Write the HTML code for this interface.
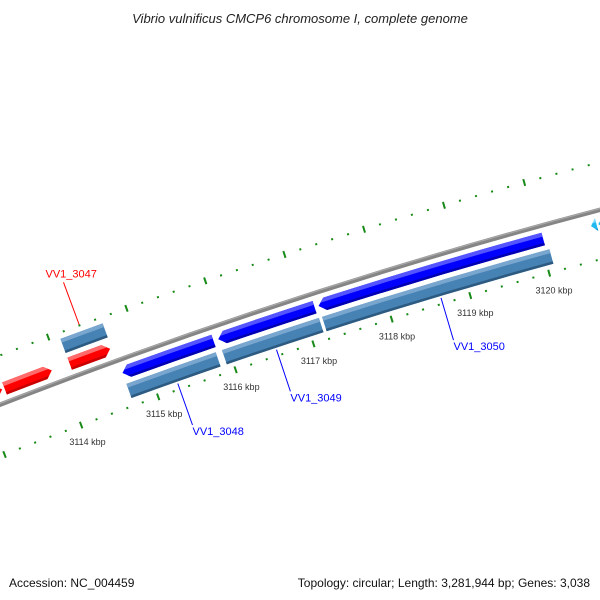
<!DOCTYPE html>
<html><head><meta charset="utf-8"><style>
html,body{margin:0;padding:0;background:#fff;}
svg{display:block;font-family:"Liberation Sans","DejaVu Sans",sans-serif;}
</style></head><body>
<svg id="map" width="600" height="600" viewBox="0 0 600 600" xmlns="http://www.w3.org/2000/svg">
<rect width="600" height="600" fill="#fff"/>
<text x="300" y="23" text-anchor="middle" font-size="13" font-style="italic" fill="#222">Vibrio vulnificus CMCP6 chromosome I, complete genome</text>
<text x="9" y="587" font-size="12" fill="#111">Accession: NC_004459</text>
<text x="590" y="587" text-anchor="end" font-size="12" fill="#111">Topology: circular; Length: 3,281,944 bp; Genes: 3,038</text>
<g id="layer"></g>
</svg>
<script>
// data (kbp)
const featStart = [3112.4, 3113.29, 3114.13, 3114.13, 3114.69, 3114.69, 3115.92, 3115.92, 3117.20, 3117.20, 3120.64, 3120.73];
const featEnd   = [3113.26, 3113.90, 3114.65, 3114.67, 3115.86, 3115.84, 3117.15, 3117.16, 3120.04, 3120.08, 3120.71, 3121.5];
const featStrand= [1, 1, 1, 1, -1, -1, -1, -1, -1, -1, -1, -1];
const featType  = ['cds','cds','cds','gene','cds','gene','cds','gene','cds','gene','cds2','cds2'];
const tickLabels = [3114, 3115, 3116, 3117, 3118, 3119, 3120];
const geneNames = ['VV1_3047','VV1_3048','VV1_3049','VV1_3050'];
const geneLabelPos = [3114.40, 3115.28, 3116.55, 3118.65];
const geneLabelStrand = [1, -1, -1, -1];

const NS='http://www.w3.org/2000/svg';
const layer=document.getElementById('layer');
const cx=2000, cy=5540, R=5511, phi0=-0.35890, dphi=0.015017;
function ang(k){return phi0+(k-3114)*dphi;}
function P(k,r){const a=ang(k);return [cx+r*Math.sin(a), cy-r*Math.cos(a)];}
function f(p){return p[0].toFixed(2)+' '+p[1].toFixed(2);}
function arc(k1,k2,r){const sweep=k2>k1?1:0;return 'A '+r+' '+r+' 0 0 '+sweep+' '+f(P(k2,r));}
function mk(tag,attrs,parent){const e=document.createElementNS(NS,tag);for(const k in attrs)e.setAttribute(k,attrs[k]);(parent||layer).appendChild(e);return e;}

// backbone
const bb=mk('path',{d:'M '+f(P(3112,R))+' '+arc(3112,3122,R),stroke:'#858585','stroke-width':4.5,fill:'none'});


const bb2=mk('path',{d:'M '+f(P(3112,R+1.3))+' '+arc(3112,3122,R+1.3),stroke:'#a8a8a8','stroke-width':1.2,fill:'none'});



// ticks
for(let i=0;i<=45;i++){
  const k=3112.6+i*0.2; const kk=Math.round(k*5)/5;
  const major=Math.abs(kk-Math.round(kk))<1e-6;
  [[R+46,'outer'],[R-48,'inner']].forEach(([rr,side])=>{
    const len=major?3.5:1;
    const t=mk('path',{d:'M '+f(P(kk,rr-len))+' L '+f(P(kk,rr+len)),stroke:'#178a17','stroke-width':2,fill:'none'});
    
    
  });
}
tickLabels.forEach(k=>{
  const p=P(k,R-66);
  const t=mk('text',{x:p[0].toFixed(1),y:(p[1]+3).toFixed(1),'text-anchor':'middle','font-size':9,fill:'#333'});
  t.textContent=k+' kbp';
  
  
});

// features
const colors={cds:{1:['#ff0000','#ff6a6a','#c80000'],'-1':['#0000ff','#5555ff','#0000b0']},gene:['#4682b4','#79a6cf','#2c5a80'],cds2:['#22b8f0','#7fd8ff','#1088c0']};
const head=0.085;
featStart.forEach((s,i)=>{
  const e=featEnd[i], st=featStrand[i], ty=featType[i];
  const off= ty==='gene'?[25,40]:[7,20];
  const r1= st>0?R+off[0]:R-off[1], r2= st>0?R+off[1]:R-off[0];
  const rm=(r1+r2)/2;
  let d;
  if(ty==='gene'){
    d='M '+f(P(s,r1))+' '+arc(s,e,r1)+' L '+f(P(e,r2))+' '+arc(e,s,r2)+' Z';
  } else if(st>0){
    const h=Math.max(s,e-head);
    d='M '+f(P(s,r1))+' '+arc(s,h,r1)+' L '+f(P(e,rm))+' L '+f(P(h,r2))+' '+arc(h,s,r2)+' Z';
  } else {
    const h=Math.min(e,s+head);
    d='M '+f(P(s,rm))+' L '+f(P(h,r1))+' '+arc(h,e,r1)+' L '+f(P(e,r2))+' '+arc(e,h,r2)+' Z';
  }
  const col= ty==='gene'?colors.gene:(ty==='cds2'?colors.cds2:colors.cds[st]);
  const g=mk('g',{});
  
  
  const cp=mk('clipPath',{id:'c'+i},g);
  mk('path',{d:d},cp);
  mk('path',{d:d,fill:col[0]},g);
  const hi=r2-4, lo=r1+2.5;
  mk('path',{d:'M '+f(P(s-0.2,hi))+' '+arc(s-0.2,e+0.2,hi)+' L '+f(P(e+0.2,r2+2))+' '+arc(e+0.2,s-0.2,r2+2)+' Z',fill:col[1],'clip-path':'url(#c'+i+')'},g);
  mk('path',{d:'M '+f(P(s-0.2,r1-2))+' '+arc(s-0.2,e+0.2,r1-2)+' L '+f(P(e+0.2,lo))+' '+arc(e+0.2,s-0.2,lo)+' Z',fill:col[2],'clip-path':'url(#c'+i+')'},g);
});

// gene labels
geneNames.forEach((n,i)=>{
  const k=geneLabelPos[i], st=geneLabelStrand[i];
  const c= st>0?'#ff0000':'#0000ff';
  const a= st>0?P(k,R+47):P(k,R-42);
  const b= st>0?P(k,R+92):P(k,R-86);
  const ln=mk('line',{x1:a[0].toFixed(1),y1:a[1].toFixed(1),x2:b[0].toFixed(1),y2:b[1].toFixed(1),stroke:c,'stroke-width':1});
  
  
  const ty= st>0?b[1]-5:b[1]+10;
  const t=mk('text',{x:(b[0]+(st>0?-18:0)).toFixed(1),y:ty.toFixed(1),'font-size':11,fill:c,'text-anchor':st>0?'start':'start'});
  t.textContent=n;
  
  
});
</script>
</body></html>
